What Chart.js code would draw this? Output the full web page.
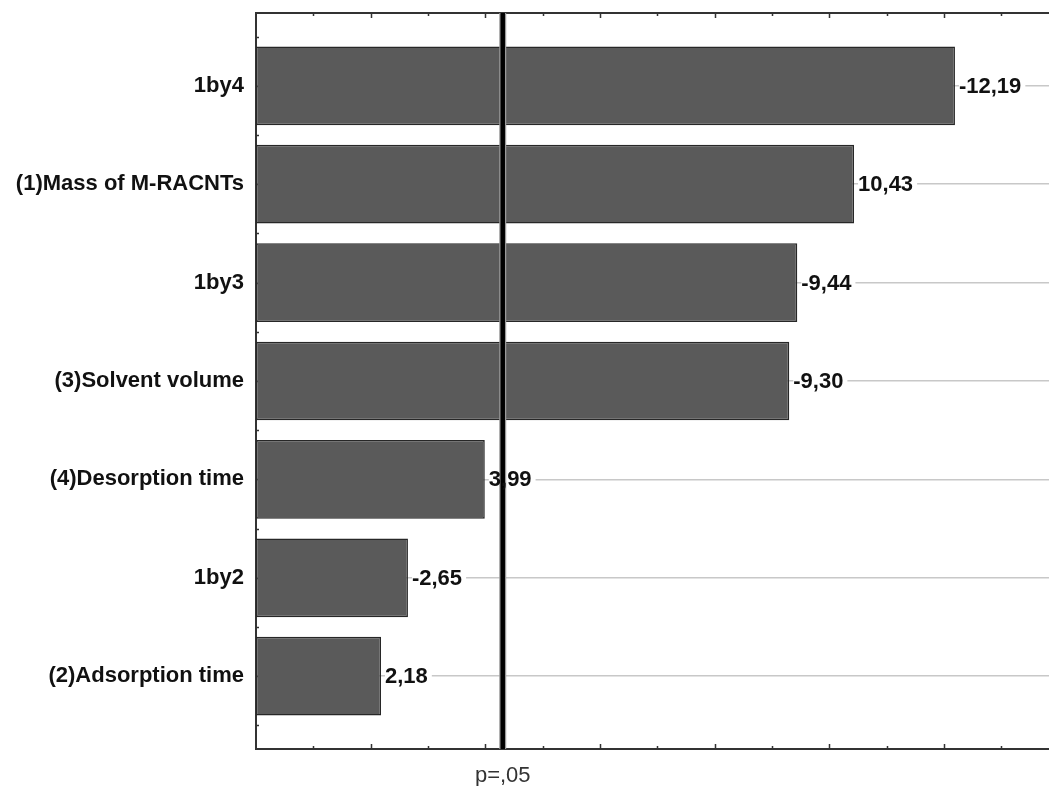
<!DOCTYPE html>
<html><head><meta charset="utf-8">
<script src="https://cdn.jsdelivr.net/npm/chart.js@4.4.1/dist/chart.umd.min.js"></script>
<style>html,body{margin:0;padding:0;background:#fff;overflow:hidden}</style>
</head><body>
<canvas id="c" width="1049" height="786"></canvas>
<script>
const categories = ["1by4", "(1)Mass of M-RACNTs", "1by3", "(3)Solvent volume", "(4)Desorption time", "1by2", "(2)Adsorption time"];
const effects = [-12.19, 10.43, -9.44, -9.30, 3.99, -2.65, 2.18];
const pCritical = 4.303;
const pLabel = "p=,05";
const xMax = 13.83;

const FONT = "'Liberation Sans', Arial, sans-serif";
const fmt = v => v.toFixed(2).replace('.', ',');

const framePlugin = {
  id: 'frame',
  beforeDatasetsDraw(chart) {
    const {ctx, chartArea: a, scales: {x, y}} = chart;
    ctx.save();
    ctx.strokeStyle = '#333';
    ctx.lineWidth = 1.5;
    for (let v = 1; v < xMax; v++) {
      const px = Math.round(x.getPixelForValue(v)) + 0.5;
      const len = v % 2 === 0 ? 5 : 3;
      ctx.beginPath();
      ctx.moveTo(px, a.top); ctx.lineTo(px, a.top + len);
      ctx.moveTo(px, a.bottom); ctx.lineTo(px, a.bottom - len);
      ctx.stroke();
    }
    for (let i = -0.5; i <= categories.length - 0.5; i += 0.5) {
      const py = Math.round(y.getPixelForValue(i)) + 0.5;
      ctx.beginPath(); ctx.moveTo(a.left, py); ctx.lineTo(a.left + 3, py); ctx.stroke();
    }
    ctx.restore();
  },
  afterDatasetsDraw(chart) {
    const {ctx, chartArea: a, scales: {x, y}} = chart;
    ctx.save();
    ctx.strokeStyle = '#333';
    ctx.lineWidth = 2;
    ctx.beginPath(); ctx.moveTo(a.left, a.top); ctx.lineTo(a.right, a.top); ctx.stroke();
    ctx.font = 'bold 22px ' + FONT;
    ctx.textBaseline = 'middle';
    const items = effects.map((e, i) => {
      const tx = x.getPixelForValue(Math.abs(e)) + 4;
      const ty = y.getPixelForValue(i);
      const t = fmt(e);
      return {tx, ty, t, w: ctx.measureText(t).width};
    });
    ctx.fillStyle = '#fff';
    items.forEach(it => ctx.fillRect(it.tx, it.ty - 4, it.w + 4, 8));
    const px = x.getPixelForValue(pCritical);
    ctx.strokeStyle = '#9a9a9a';
    ctx.lineWidth = 7;
    ctx.beginPath(); ctx.moveTo(px, a.top); ctx.lineTo(px, a.bottom); ctx.stroke();
    ctx.strokeStyle = '#000';
    ctx.lineWidth = 4.5;
    ctx.beginPath(); ctx.moveTo(px, a.top); ctx.lineTo(px, a.bottom); ctx.stroke();
    ctx.fillStyle = '#111';
    items.forEach(it => ctx.fillText(it.t, it.tx, it.ty + 1));
    ctx.restore();
  }
};

new Chart(document.getElementById('c'), {
  type: 'bar',
  data: {
    datasets: [{
      data: effects.map((e, i) => ({x: Math.abs(e), y: i})),
      backgroundColor: '#5a5a5a',
      borderColor: '#272727',
      borderWidth: 1.5,
      borderSkipped: false,
      barPercentage: 0.8,
      categoryPercentage: 1
    }]
  },
  options: {
    indexAxis: 'y',
    responsive: false,
    animation: false,
    devicePixelRatio: 1,
    layout: {padding: {top: 13, right: 0, left: 0, bottom: 0}},
    plugins: {legend: {display: false}, tooltip: {enabled: false}},
    scales: {
      x: {
        type: 'linear',
        offset: false,
        min: 0, max: xMax,
        afterBuildTicks: s => { s.ticks = [{value: pCritical}]; },
        afterFit: s => { s.height = 37; s.paddingLeft = 0; s.paddingRight = 0; },
        ticks: {
          callback: () => pLabel,
          font: {family: FONT, size: 22},
          color: '#333',
          padding: 14,
          maxRotation: 0,
          autoSkip: false
        },
        grid: {display: false, drawTicks: false, offset: false},
        border: {display: true, color: '#333', width: 2}
      },
      y: {
        type: 'linear',
        offset: false,
        reverse: true,
        min: -0.74, max: categories.length - 1 + 0.74,
        afterBuildTicks: s => { s.ticks = categories.map((c, i) => ({value: i})); },
        afterFit: s => { s.width = 256; s.paddingTop = 0; s.paddingBottom = 0; },
        ticks: {
          callback: v => categories[v],
          font: {family: FONT, size: 22, weight: 'bold'},
          color: '#111',
          padding: 12,
          autoSkip: false
        },
        grid: {color: '#c8c8c8', lineWidth: 1.5, drawTicks: false, offset: false},
        border: {display: true, color: '#333', width: 2}
      }
    }
  },
  plugins: [framePlugin]
});
</script>
</body></html>
